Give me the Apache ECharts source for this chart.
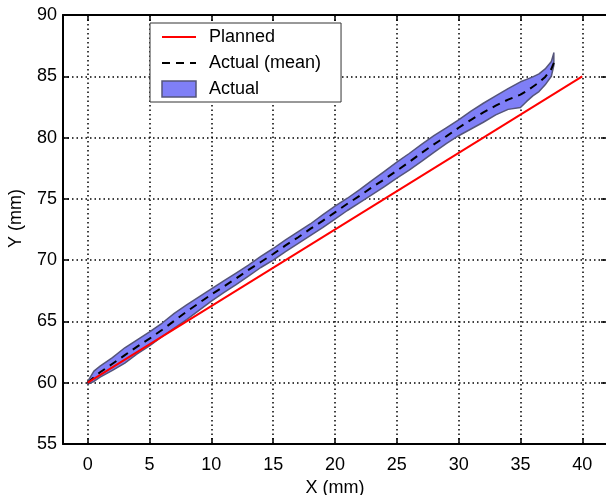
<!DOCTYPE html>
<html>
<head>
<meta charset="utf-8">
<script src="https://cdn.jsdelivr.net/npm/echarts@6/dist/echarts.min.js"></script>
<style>
  html, body { margin: 0; padding: 0; background: #fff; }
  #chart { width: 606px; height: 495px; }
</style>
</head>
<body>
<div id="chart"></div>
<script>
const FONT = 'Arial, "Liberation Sans", sans-serif';

// planned trajectory (straight line)
const plannedX = [0, 40];
const plannedY = [60, 85];

// measured trajectory: x positions, mean and the band around it
const actualX = [0, 0.5, 1, 2, 3, 4, 5, 6, 7, 8, 9, 10, 11, 12, 13, 14, 15, 16, 17, 18, 19, 20,
  21, 22, 23, 24, 25, 26, 27, 28, 29, 30, 31, 32, 33, 34, 35, 35.5, 36, 36.5, 37, 37.5, 37.7];
const actualMean = [60.0, 60.45, 60.85, 61.55, 62.25, 62.95, 63.6, 64.3, 65.05, 65.8, 66.5, 67.2,
  67.85, 68.5, 69.2, 69.85, 70.5, 71.2, 71.85, 72.55, 73.2, 73.9, 74.6, 75.25, 75.95, 76.6, 77.3,
  78.0, 78.75, 79.45, 80.1, 80.8, 81.45, 82.05, 82.6, 83.1, 83.5, 83.8, 84.15, 84.5, 84.95, 85.6, 86.1];
const actualUpper = [60.1, 60.95, 61.35, 62.05, 62.85, 63.5, 64.15, 64.85, 65.65, 66.35, 67.0, 67.65,
  68.3, 68.95, 69.6, 70.3, 70.95, 71.65, 72.3, 72.95, 73.7, 74.4, 75.05, 75.75, 76.5, 77.25, 78.0,
  78.7, 79.45, 80.15, 80.8, 81.45, 82.15, 82.8, 83.4, 84.0, 84.55, 84.75, 84.95, 85.2, 85.6, 86.2, 86.9];
const actualLower = [59.9, 60.1, 60.45, 61.0, 61.6, 62.35, 63.0, 63.75, 64.45, 65.15, 65.9, 66.65,
  67.35, 68.0, 68.7, 69.4, 70.0, 70.7, 71.35, 72.0, 72.65, 73.35, 74.05, 74.7, 75.35, 76.0, 76.7,
  77.35, 78.05, 78.8, 79.5, 80.15, 80.7, 81.25, 81.85, 82.3, 82.45, 82.95, 83.4, 83.75, 84.3, 85.0, 85.9];

const xRange = [-2, 42];
const yRange = [55, 90];

const bandColor = "#7f7ff7";
const bandEdge = "#55557a";

function pairs(xs, ys) {
  return xs.map((x, i) => [x, ys[i]]);
}

function renderBand(params, api) {
  const pts = [];
  for (let i = 0; i < actualX.length; i++) pts.push(api.coord([actualX[i], actualUpper[i]]));
  for (let i = actualX.length - 1; i >= 0; i--) pts.push(api.coord([actualX[i], actualLower[i]]));
  return {
    type: "polygon",
    shape: { points: pts },
    style: { fill: bandColor, stroke: bandEdge, lineWidth: 1.5, lineJoin: "round" },
  };
}

const axisLine = () => ({ show: true, onZero: false, lineStyle: { color: "#000", width: 2 } });
const tickIn = { show: true, inside: true, length: 6, lineStyle: { color: "#000", width: 1.5 } };
const gridDots = { show: true, showMaxLine: false, lineStyle: { color: "#000", width: 1.5, type: [1.5, 3] } };
const labelStyle = { color: "#000", fontSize: 18, fontFamily: FONT };

const chart = echarts.init(document.getElementById("chart"), null, { renderer: "canvas" });

chart.setOption({
  animation: false,
  backgroundColor: "#fff",
  grid: {
    left: 63, top: 15, right: -1, bottom: 51,
    outerBoundsMode: "none",
    containLabel: false,
    show: false,
  },
  legend: {
    left: 150,
    top: 23,
    orient: "vertical",
    itemWidth: 34,
    itemHeight: 16,
    itemGap: 8,
    padding: [5, 20, 4, 11],
    backgroundColor: "#fff",
    borderColor: "#333",
    borderWidth: 1,
    textStyle: { color: "#000", fontSize: 18, fontFamily: FONT, padding: [0, 0, 0, 8] },
    data: [
      { name: "Planned", itemStyle: { opacity: 0 } },
      { name: "Actual (mean)", itemStyle: { opacity: 0 } },
      { name: "Actual", icon: "rect", itemStyle: { color: bandColor, borderColor: bandEdge, borderWidth: 1.5 } },
    ],
  },
  xAxis: [
    {
      type: "value",
      min: xRange[0],
      max: xRange[1],
      minInterval: 5,
      maxInterval: 5,
      position: "bottom",
      name: "X (mm)",
      nameLocation: "middle",
      nameGap: 33,
      nameTextStyle: labelStyle,
      axisLine: axisLine(),
      axisTick: tickIn,
      axisLabel: { ...labelStyle, margin: 12, formatter: (v) => (v % 5 === 0 ? String(v) : "") },
      splitLine: gridDots,
    },
    {
      type: "value",
      min: xRange[0],
      max: xRange[1],
      minInterval: 5,
      maxInterval: 5,
      position: "top",
      axisLine: axisLine(),
      axisTick: tickIn,
      axisLabel: { show: false },
      splitLine: { show: false },
    },
  ],
  yAxis: [
    {
      type: "value",
      min: yRange[0],
      max: yRange[1],
      interval: 5,
      position: "left",
      name: "Y (mm)",
      nameLocation: "middle",
      nameGap: 38,
      nameTextStyle: { ...labelStyle, padding: [0, 0, 0, 22] },
      axisLine: axisLine(),
      axisTick: tickIn,
      axisLabel: { ...labelStyle, margin: 6 },
      splitLine: gridDots,
    },
    {
      type: "value",
      min: yRange[0],
      max: yRange[1],
      interval: 5,
      position: "right",
      axisLine: { show: false, onZero: false },
      axisTick: tickIn,
      axisLabel: { show: false },
      splitLine: { show: false },
    },
  ],
  series: [
    {
      name: "Actual",
      type: "custom",
      renderItem: renderBand,
      data: [[actualX[0], actualMean[0]]],
      itemStyle: { color: bandColor, borderColor: bandEdge, borderWidth: 1.5 },
      clip: true,
      z: 1,
    },
    {
      name: "Actual (mean)",
      type: "line",
      data: pairs(actualX, actualMean),
      showSymbol: false,
      symbol: "none",
      lineStyle: { color: "#000", width: 2, type: [8, 6] },
      itemStyle: { color: "#000" },
      z: 2,
    },
    {
      name: "Planned",
      type: "line",
      data: pairs(plannedX, plannedY),
      showSymbol: false,
      symbol: "none",
      lineStyle: { color: "#ff0000", width: 2 },
      itemStyle: { color: "#ff0000" },
      z: 3,
    },
  ],
});
</script>
</body>
</html>
